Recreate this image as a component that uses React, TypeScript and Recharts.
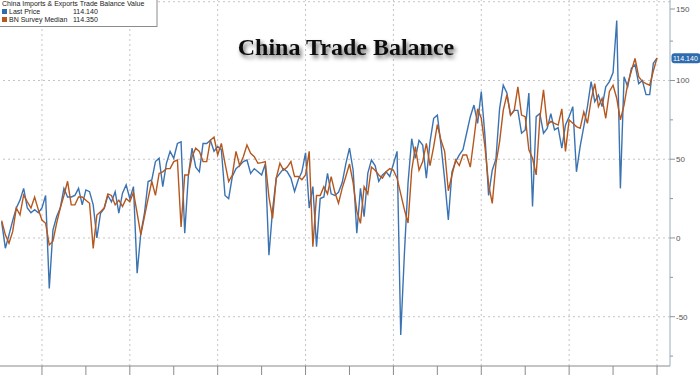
import React from 'react';
import { LineChart, Line, XAxis, YAxis, ReferenceLine } from 'recharts';

const lastPrice = [
  10, -6.5, 2, 11, 19, 24, 31.5, 19, 16, 18,
  16, 19, 27, -32, 5, 13.5, 19, 31.5, 26, 26,
  27, 31.5, 21, 30.5, 29.4, 21, 0, 15.7, 18.8, 27,
  23, 29.4, 15.7, 28.4, 33.7, 25, 32.6, -22.4, 3, 15.7,
  35.8, 36.8, 48.5, 50.6, 32.6, 47.4, 55, 50.6, 60, 61,
  3, 40, 57, 45, 42, 60, 60, 62, 55, 58,
  56, 27, 25, 39, 44, 46, 48.5, 49.5, 41, 44,
  42, 40, 47, -11, 18, 38, 41, 44, 42, 38,
  29.5, 37, 42, 54, 19, 32.6, -5.5, 25, 26, 41,
  28, 27, 29, 35, 47, 57, 43, 3, 31.5, 13.5,
  41, 49.5, 46, 36, 40, 42, 39, 47, 55, -61.6,
  -10, 35, 63, 50.6, 62, 59, 38, 61, 76, 78,
  59, 37, 11.4, 42, 48.5, 52.7, 56, 66.5, 77, 84.4,
  72.8, 93, 65, 27, 43, 50, 82, 97, 92, 78,
  81, 81, 66.5, 68.6, 92, 20, 77, 79, 66.5, 69.6,
  79, 68.6, 70, 57, 71.7, 77, 83.4, 42, 58, 70.7,
  83.4, 99.3, 86.6, 90.8, 83.4, 96, 99.3, 105, 138, 31.5,
  102.4, 96, 107.7, 110, 98, 100, 91, 91, 111, 114.14,
];

const surveyMedian = [
  11, 2, -3.4, 4, 19, 14.6, 27.3, 23, 19, 26,
  18, 11.4, 9.3, -4.4, -2, 9.3, 19, 27, 36, 21,
  21, 26, 26, 24, 22, -6.6, 14.6, 16.7, 19, 28,
  27, 21, 24, 20, 25, 23, 29, 15.7, 2, 13.5,
  25, 36, 27, 41, 42, 44, 44, 48.5, 49.5, 7,
  40, 40, 51.6, 57, 55, 48.5, 48.5, 62, 64, 52.7,
  60, 47.4, 35.8, 40, 55, 46, 51.6, 59, 53.8, 51.6,
  47.4, 47.8, 48.5, 26, 12.5, 38, 47.4, 43, 45, 48.5,
  39, 39, 37, 40, 55, -5.5, 27, 27, 32.6, 28,
  39, 29, 22, 31.5, 39, 47, 35, 17, 9.3, 32.6,
  28, 45, 43, 40, 38, 42, 44, 43, 38, 28,
  18, 9.5, 43, 58, 43, 48.5, 60, 46, 58, 72,
  62, 55, 30, 40, 49.5, 46, 52.7, 52.7, 45, 63,
  82, 76, 58, 34, 22, 47, 61, 81, 91, 78,
  81, 96, 78, 77, 56, 50.6, 40, 76, 94, 71.7,
  74, 72.8, 71.7, 82, 55, 75, 72.8, 70.7, 69.6, 80,
  72.8, 87.6, 98, 83.4, 88.7, 76, 93, 97, 88.7, 75,
  84.4, 98, 106, 114, 102.4, 99.3, 98, 97, 106, 114.35,
];

const monthIndex = lastPrice.map((_, i) => i);
const xTicks = [11, 23, 35, 47, 59, 71, 83, 95, 107, 119, 131, 143, 155, 167, 179];
const xGridTicks = [11, 35, 59, 83, 107, 131, 155, 179];
const yTicks = [-75, -50, -25, 0, 25, 50, 75, 100, 125, 150];
const yGridTicks = [-50, 0, 50, 100, 150];
const chartTitle = 'China Trade Balance';
const legendTitle = 'China Imports & Exports Trade Balance Value';
const seriesNames = ['Last Price', 'BN Survey Median'];
const legendValues = ['114.140', '114.350'];
const lastTag = '114.140';

const BLUE = '#3b73b2';
const ORANGE = '#b6571d';
const SANS = "'Liberation Sans', Arial, sans-serif";

const data = monthIndex.map((i) => ({ i, last: lastPrice[i], median: surveyMedian[i] }));

const YTick = (props: any) => {
  const { x, y, payload } = props;
  const v = payload.value;
  const major = v % 50 === 0;
  return (
    <g>
      <line x1={x} x2={x + (major ? 5 : 3)} y1={y} y2={y} stroke="#8797aa" />
      {major && (
        <text x={x + 6} y={y} dy={3} fontSize={8} fill="#555" fontFamily={SANS}>
          {v}
        </text>
      )}
    </g>
  );
};

const PriceTag = (props: any) => {
  const vb = props.viewBox || {};
  const x = vb.x + vb.width + 1.5;
  const y = vb.y;
  return (
    <g>
      <rect x={x} y={y - 5} width={29} height={10} rx={3} fill="#2f6cae" />
      <text x={x + 1.5} y={y + 2.6} fontSize={7} fill="#fff" fontFamily={SANS}>
        {lastTag}
      </text>
    </g>
  );
};

const EmptyTick = () => <g />;

export default function App() {
  return (
    <div style={{ position: 'absolute', left: 0, top: 0, width: 700, height: 375, background: '#fff', overflow: 'hidden' }}>
      <LineChart width={700} height={375} data={data} margin={{ top: 0, right: 0, bottom: 0, left: 0 }}>
        <XAxis
          dataKey="i"
          type="number"
          domain={[-0.46, 182.55]}
          allowDataOverflow
          ticks={xTicks}
          height={9}
          tickSize={9}
          tick={EmptyTick}
          stroke="#8a8a8a"
          axisLine={{ stroke: '#8a8a8a' }}
          tickLine={{ stroke: '#8a8a8a' }}
        />
        <YAxis
          orientation="right"
          type="number"
          domain={[-81.3, 151.1]}
          allowDataOverflow
          ticks={yTicks}
          width={30}
          tickSize={0}
          tickMargin={0}
          tickLine={false}
          tick={YTick}
          axisLine={{ stroke: '#9aabbd' }}
        />
        {xGridTicks.map((t) => (
          <ReferenceLine key={'vx' + t} x={t} stroke="#c4c4c4" strokeDasharray="2 3" />
        ))}
        {yGridTicks.map((t) => (
          <ReferenceLine key={'hy' + t} y={t} stroke="#c4c4c4" strokeDasharray="2 3" />
        ))}
        <Line type="linear" dataKey="last" stroke={BLUE} strokeWidth={1.4} dot={false} activeDot={false} isAnimationActive={false} />
        <Line type="linear" dataKey="median" stroke={ORANGE} strokeWidth={1.4} dot={false} activeDot={false} isAnimationActive={false} />
        <ReferenceLine y={lastPrice[lastPrice.length - 1]} stroke="none" strokeOpacity={0} label={<PriceTag />} />
      </LineChart>
      <svg width={700} height={375} style={{ position: 'absolute', left: 0, top: 0, pointerEvents: 'none' }}>
        <defs>
          <filter id="titleShadow" x="-10%" y="-40%" width="130%" height="200%">
            <feDropShadow dx="2" dy="3" stdDeviation="2" floodColor="#000" floodOpacity="0.6" />
          </filter>
        </defs>
        <rect x={-1} y={-6} width={158} height={32.5} fill="#fff" stroke="#8c8c8c" />
        <text x={2} y={5.5} fontSize={7} fill="#222" fontFamily={SANS}>
          {legendTitle}
        </text>
        <rect x={2} y={9} width={5} height={5} fill="#2f6cae" />
        <text x={9} y={14} fontSize={7} fill="#222" fontFamily={SANS}>
          {seriesNames[0]}
        </text>
        <text x={73} y={14} fontSize={7} fill="#222" fontFamily={SANS}>
          {legendValues[0]}
        </text>
        <rect x={2} y={17} width={5} height={5} fill={ORANGE} />
        <text x={9} y={22} fontSize={7} fill="#222" fontFamily={SANS}>
          {seriesNames[1]}
        </text>
        <text x={73} y={22} fontSize={7} fill="#222" fontFamily={SANS}>
          {legendValues[1]}
        </text>
        <text
          x={346}
          y={55}
          textAnchor="middle"
          fontSize={24}
          fontWeight="bold"
          fill="#111"
          fontFamily="'Liberation Serif', 'Times New Roman', serif"
          filter="url(#titleShadow)"
        >
          {chartTitle}
        </text>
      </svg>
    </div>
  );
}
